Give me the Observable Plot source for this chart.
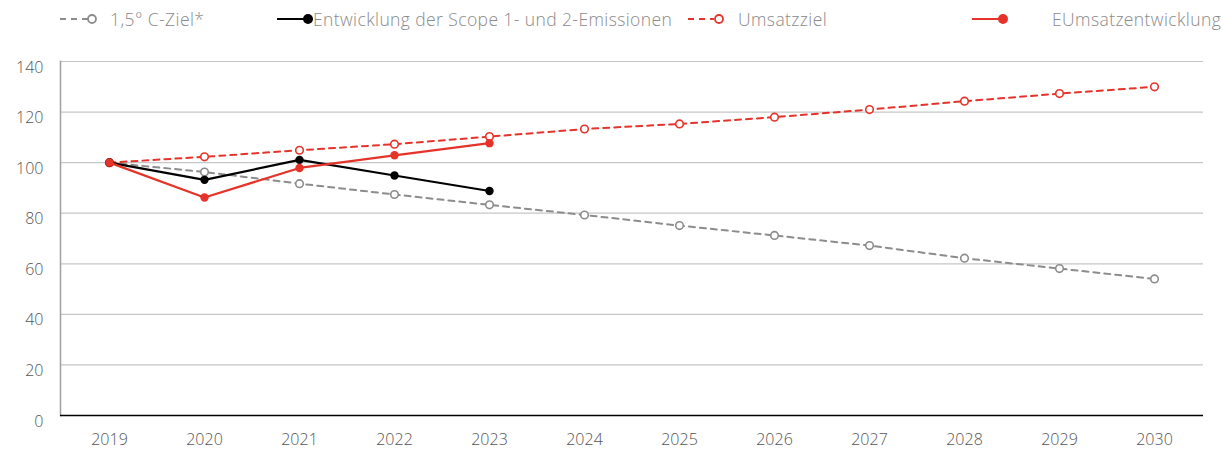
<!DOCTYPE html>
<html><head><meta charset="utf-8">
<script src="https://cdn.jsdelivr.net/npm/d3@7"></script>
<script src="https://cdn.jsdelivr.net/npm/@observablehq/plot@0.6"></script>
<style>
body{margin:0;background:#fff;font-family:"Open Sans",Lato,sans-serif;}
#legend{position:relative;height:38px;width:1225px;font-size:17.5px;letter-spacing:0.4px;color:#8a8a8a;font-weight:300;}
#legend .sw{position:absolute;top:9px;display:block;}
#legend .tx{position:absolute;top:7px;line-height:24px;white-space:nowrap;}
</style></head>
<body>
<div id="legend"></div>
<div id="chart"></div>
<script>
const years = ["2019","2020","2021","2022","2023","2024","2025","2026","2027","2028","2029","2030"];
const zielValues = [100, 96.3, 91.7, 87.4, 83.3, 79.3, 75.1, 71.2, 67.2, 62.2, 58.1, 54.0];
const umsatzzielValues = [100, 102.3, 104.9, 107.3, 110.3, 113.3, 115.3, 118.0, 121.0, 124.3, 127.3, 130.0];
const emissionYears = ["2019","2020","2021","2022","2023"];
const emissionValues = [100, 93.2, 101.1, 94.9, 88.8];
const umsatzValues = [100, 86.2, 97.9, 102.9, 107.7];
const yTicks = [0, 20, 40, 60, 80, 100, 120, 140];
const seriesNames = ["1,5° C-Ziel*", "Entwicklung der Scope 1- und 2-Emissionen", "Umsatzziel", "EUmsatzentwicklung"];

const RED = "#e5332a", GRAY = "#8c8c8c", BLACK = "#000";

const ziel = years.map((y,i)=>({year:y, value:zielValues[i]}));
const uziel = years.map((y,i)=>({year:y, value:umsatzzielValues[i]}));
const emis = emissionYears.map((y,i)=>({year:y, value:emissionValues[i]}));
const ums = emissionYears.map((y,i)=>({year:y, value:umsatzValues[i]}));

// legend layout
const legendItems = [
  {x0:60, x1:88, cx:92, color:GRAY, dash:"6,5", hollow:true, textLeft:110},
  {x0:277, x1:306, cx:308, color:BLACK, dash:null, hollow:false, textLeft:313},
  {x0:688, x1:714, cx:719, color:RED, dash:"6,5", hollow:true, textLeft:738},
  {x0:972, x1:1001, cx:1003, color:RED, dash:null, hollow:false, textLeft:1052}
];
const leg = document.getElementById("legend");
legendItems.forEach((it,i)=>{
  const left = it.x0, w = it.cx + 7 - it.x0;
  const s = document.createElementNS("http://www.w3.org/2000/svg","svg");
  s.setAttribute("class","sw"); s.setAttribute("width", w); s.setAttribute("height", 20);
  s.style.left = left+"px";
  s.innerHTML = `<line x1="0" x2="${it.x1-left}" y1="10" y2="10" stroke="${it.color}" stroke-width="2" ${it.dash?`stroke-dasharray="${it.dash}"`:""}/>`+
    (it.hollow ? `<circle cx="${it.cx-left}" cy="10" r="4" fill="#fff" stroke="${it.color}" stroke-width="1.8"/>` : `<circle cx="${it.cx-left}" cy="10" r="5" fill="${it.color}"/>`);
  leg.appendChild(s);
  const t = document.createElement("div");
  t.className = "tx"; t.style.left = it.textLeft+"px";
  t.textContent = seriesNames[i];
  leg.appendChild(t);
});

const chart = Plot.plot({
  width: 1225, height: 412,
  marginLeft: 60, marginRight: 22, marginTop: 23, marginBottom: 35,
  style: {fontFamily: "'Open Sans', Lato, sans-serif", fontSize: "16px", color: "#555", background: "#fff"},
  x: {type: "point", domain: years, padding: 0.5, label: null},
  y: {domain: [0, 140], label: null},
  marks: [
    Plot.ruleY(yTicks.filter(d=>d>0), {stroke: "#c6c6c6", strokeWidth: 1.2}),
    Plot.frame({anchor: "left", stroke: "#a0a0a0", strokeWidth: 1.5}),
    Plot.axisY({ticks: yTicks, tickSize: 0, tickPadding: 17, dy: 6, fill: "#555", fontWeight: 300}),
    Plot.axisX({tickSize: 0, tickPadding: 18, fill: "#555", fontWeight: 300}),
    Plot.ruleY([0], {stroke: "#000", strokeWidth: 1.5}),
    Plot.line(ziel, {x: "year", y: "value", stroke: GRAY, strokeWidth: 2, strokeDasharray: "6,5"}),
    Plot.dot(ziel, {x: "year", y: "value", r: 3.8, fill: "#fff", stroke: GRAY, strokeWidth: 1.6}),
    Plot.line(uziel, {x: "year", y: "value", stroke: RED, strokeWidth: 2, strokeDasharray: "6,5"}),
    Plot.dot(uziel, {x: "year", y: "value", r: 3.8, fill: "#fff", stroke: RED, strokeWidth: 1.6}),
    Plot.line(emis, {x: "year", y: "value", stroke: BLACK, strokeWidth: 2.2}),
    Plot.dot(emis, {x: "year", y: "value", r: 4.2, fill: BLACK}),
    Plot.line(ums, {x: "year", y: "value", stroke: RED, strokeWidth: 2.2}),
    Plot.dot(ums, {x: "year", y: "value", r: 4.2, fill: RED})
  ]
});
document.getElementById("chart").appendChild(chart);
</script>
</body></html>
